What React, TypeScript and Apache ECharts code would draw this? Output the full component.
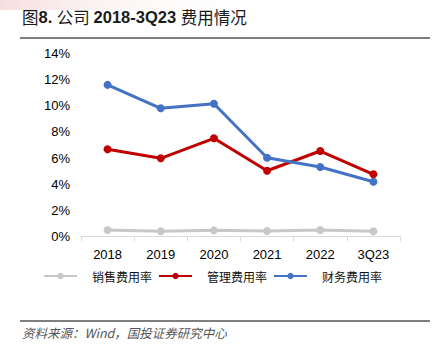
import React, { useEffect, useRef } from "react";
import * as echarts from "echarts";

const categories = ["2018", "2019", "2020", "2021", "2022", "3Q23"];
const salesRate = [0.5, 0.4, 0.47, 0.42, 0.5, 0.4];
const adminRate = [6.67, 5.98, 7.51, 5.03, 6.54, 4.76];
const financeRate = [11.6, 9.81, 10.16, 6.03, 5.32, 4.19];
const seriesNames = ["销售费用率", "管理费用率", "财务费用率"];
const yTicks = { min: 0, max: 14, interval: 2 };

export default function App() {
  const ref = useRef<HTMLDivElement>(null);
  useEffect(() => {
    if (!ref.current) return;
    const chart = echarts.init(ref.current, null, { renderer: "svg" });
    const mkSeries = (name: string, data: number[], color: string) => ({
      name,
      type: "line",
      data,
      symbol: "circle",
      symbolSize: 8,
      lineStyle: { width: 3, color },
      itemStyle: { color },
    });
    const cjk = "Noto Sans CJK SC, sans-serif";
    const latin = "Liberation Sans, Arial, sans-serif";
    chart.setOption({
      animation: false,
      backgroundColor: "#fff",
      grid: { left: 81, right: 35, top: 53.5, bottom: 122.5 },
      legend: {
        top: 270,
        left: 43,
        padding: 0,
        itemWidth: 33,
        itemHeight: 8,
        itemGap: 6,
        data: seriesNames,
        textStyle: {
          fontFamily: cjk,
          fontSize: 12,
          color: "#111",
          padding: [0, 0, 0, 10],
        },
      },
      xAxis: {
        type: "category",
        data: categories,
        boundaryGap: true,
        axisLine: { lineStyle: { color: "#d9d9d9", width: 1 } },
        axisTick: { show: true, length: 5, lineStyle: { color: "#d9d9d9" } },
        axisLabel: { margin: 11, fontSize: 13, color: "#000", fontFamily: latin },
      },
      yAxis: {
        type: "value",
        min: yTicks.min,
        max: yTicks.max,
        interval: yTicks.interval,
        axisLine: { show: false },
        axisTick: { show: false },
        splitLine: { show: false },
        axisLabel: {
          margin: 11,
          fontSize: 13,
          color: "#000",
          fontFamily: latin,
          formatter: (v: number) => v + "%",
        },
      },
      graphic: [
        {
          type: "rect",
          left: 0,
          top: 0,
          shape: { width: 260, height: 10 },
          style: {
            fill: new echarts.graphic.LinearGradient(0, 0, 1, 0, [
              { offset: 0, color: "rgba(240,200,200,0.6)" },
              { offset: 1, color: "rgba(255,255,255,0)" },
            ]),
          },
          silent: true,
        },
        {
          type: "text",
          left: 22,
          top: 8,
          style: {
            text: "{c|图}{b|8. }{c|公司 }{b|2018-3Q23 }{c|费用情况}",
            rich: {
              c: { fontSize: 16.5, fontFamily: cjk, fill: "#1a1a1a", fontWeight: "normal" },
              b: { fontSize: 16.5, fontFamily: latin, fill: "#1a1a1a", fontWeight: "bold" },
            },
          },
        },
        {
          type: "line",
          shape: { x1: 20, y1: 38, x2: 430, y2: 38 },
          style: { stroke: "#000", lineWidth: 1.2 },
        },
        {
          type: "line",
          shape: { x1: 20, y1: 321, x2: 430, y2: 321 },
          style: { stroke: "#000", lineWidth: 1.2 },
        },
        {
          type: "text",
          left: 22,
          top: 326,
          style: {
            text: "资料来源：Wind，国投证券研究中心",
            fontSize: 12.5,
            fontStyle: "italic",
            fill: "#555",
            fontFamily: cjk,
          },
        },
      ],
      series: [
        mkSeries(seriesNames[0], salesRate, "#c8c8c8"),
        mkSeries(seriesNames[1], adminRate, "#c00000"),
        mkSeries(seriesNames[2], financeRate, "#4472c4"),
      ],
    });
    return () => chart.dispose();
  }, []);
  return (
    <div
      ref={ref}
      style={{ position: "fixed", left: 0, top: 0, width: 435, height: 359 }}
    />
  );
}
